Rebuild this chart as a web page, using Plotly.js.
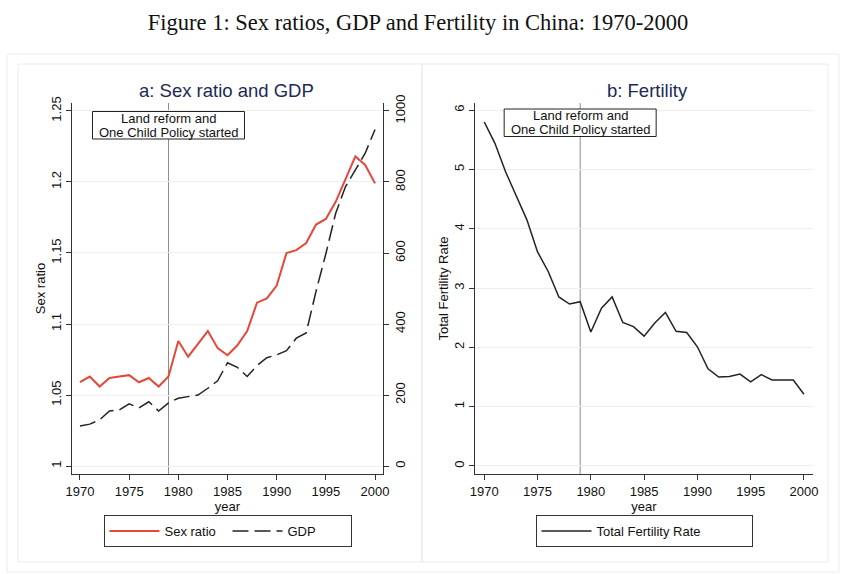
<!DOCTYPE html>
<html>
<head>
<meta charset="utf-8">
<script src="https://cdn.plot.ly/plotly-3.0.1.min.js"></script>
<style>html,body{margin:0;padding:0;background:#fff;}#chart{width:847px;height:574px;}</style>
</head>
<body>
<div id="chart"></div>
<script>
// ---- data ----
const years = [1970,1971,1972,1973,1974,1975,1976,1977,1978,1979,1980,1981,1982,1983,1984,1985,1986,1987,1988,1989,1990,1991,1992,1993,1994,1995,1996,1997,1998,1999,2000];
const sexRatio = [1.059,1.063,1.056,1.062,1.063,1.064,1.059,1.062,1.056,1.063,1.088,1.077,1.086,1.095,1.083,1.078,1.085,1.095,1.115,1.118,1.127,1.150,1.152,1.157,1.170,1.174,1.186,1.202,1.218,1.212,1.199];
const gdp = [113,118,130,155,158,175,164,181,155,178,191,195,200,219,240,291,278,252,283,305,313,325,360,375,492,598,712,787,834,881,948];
const tfr = [5.80,5.44,4.96,4.54,4.15,3.61,3.28,2.85,2.73,2.77,2.26,2.66,2.85,2.42,2.35,2.19,2.41,2.59,2.27,2.25,2.01,1.64,1.50,1.51,1.55,1.42,1.54,1.45,1.45,1.45,1.21];
const policyYear = 1979;
const policyText = ["Land reform and", "One Child Policy started"];
const yearTicks = [1970,1975,1980,1985,1990,1995,2000];
const sexRatioTicks = [1,1.05,1.1,1.15,1.2,1.25];
const sexRatioTickText = ["1","1.05","1.1","1.15","1.2","1.25"];
const gdpTicks = [0,200,400,600,800,1000];
const tfrTicks = [0,1,2,3,4,5,6];

// ---- helpers for pixel -> paper ----
const W = 847, H = 574;
const px = v => v / W;
const py = v => 1 - v / H;

const FONT = "Liberation Sans, Arial, sans-serif";
const AX = "#333333";

const traces = [
  {x: years, y: sexRatio, type: "scatter", mode: "lines", name: "Sex ratio",
   line: {color: "#e5473a", width: 2}, xaxis: "x", yaxis: "y", legend: "legend"},
  {x: years, y: gdp, type: "scatter", mode: "lines", name: "GDP",
   line: {color: "#222222", width: 1.5, dash: "16px,6px"}, xaxis: "x", yaxis: "y2", legend: "legend"},
  {x: years, y: tfr, type: "scatter", mode: "lines", name: "Total Fertility Rate",
   line: {color: "#222222", width: 1.5}, xaxis: "x2", yaxis: "y3", legend: "legend2"}
];

const xCommon = {
  tickvals: yearTicks, ticks: "outside", ticklen: 5, tickcolor: AX, tickwidth: 1,
  showline: true, linecolor: AX, linewidth: 1, showgrid: false, zeroline: false,
  tickfont: {family: FONT, size: 13, color: "#111"},
  title: {text: "year", font: {family: FONT, size: 13, color: "#111"}, standoff: 3}
};
const yCommon = {
  ticks: "outside", ticklen: 5, tickcolor: AX, tickwidth: 1, tickangle: -90,
  showline: true, linecolor: AX, linewidth: 1, zeroline: false,
  tickfont: {family: FONT, size: 13, color: "#111"}
};

const frameLine = {color: "#ebebeb", width: 1};

const layout = {
  width: W, height: H, autosize: false,
  margin: {l: 0, r: 0, t: 0, b: 0},
  paper_bgcolor: "#ffffff", plot_bgcolor: "rgba(0,0,0,0)",
  font: {family: FONT, size: 13, color: "#111"},
  title: {text: "Figure 1: Sex ratios, GDP and Fertility in China: 1970-2000",
          font: {family: "Liberation Serif, Times New Roman, serif", size: 22.5, color: "#111"},
          x: 418 / W, xanchor: "center", y: py(22), yanchor: "middle", xref: "paper", yref: "paper"},
  xaxis: Object.assign({}, xCommon, {domain: [px(72), px(383)], range: [1969.19, 2000.81], anchor: "y"}),
  yaxis: Object.assign({}, yCommon, {domain: [py(474), py(103)], range: [0.9944, 1.2556],
    tickvals: sexRatioTicks, ticktext: sexRatioTickText, showgrid: true, gridcolor: "#eeeeee", anchor: "x",
    title: {text: "Sex ratio", font: {family: FONT, size: 13, color: "#111"}, standoff: 0}}),
  yaxis2: Object.assign({}, yCommon, {range: [-22.5, 1022.5], overlaying: "y", side: "right", anchor: "x",
    tickvals: gdpTicks, showgrid: false}),
  xaxis2: Object.assign({}, xCommon, {domain: [px(475), px(813)], range: [1969.13, 2000.85], anchor: "y3"}),
  yaxis3: Object.assign({}, yCommon, {domain: [py(474), py(103)], range: [-0.135, 6.12], anchor: "x2",
    tickvals: tfrTicks, showgrid: true, gridcolor: "#eeeeee",
    title: {text: "Total Fertility Rate", font: {family: FONT, size: 13, color: "#111"}, standoff: 0}}),
  legend: {x: 227.5 / W, xanchor: "center", y: py(531), yanchor: "middle", orientation: "h",
           bordercolor: AX, borderwidth: 1, bgcolor: "#ffffff", font: {family: FONT, size: 13, color: "#111"},
           entrywidth: 58, itemwidth: 50},
  legend2: {x: 644 / W, xanchor: "center", y: py(531), yanchor: "middle", orientation: "h",
            bordercolor: AX, borderwidth: 1, bgcolor: "#ffffff", font: {family: FONT, size: 13, color: "#111"},
            entrywidth: 150, itemwidth: 50},
  showlegend: true,
  shapes: [
    {type: "rect", xref: "paper", yref: "paper", x0: px(7), x1: px(839), y0: py(572), y1: py(54), line: frameLine, layer: "below"},
    {type: "rect", xref: "paper", yref: "paper", x0: px(18), x1: px(422), y0: py(562), y1: py(64), line: frameLine, layer: "below"},
    {type: "rect", xref: "paper", yref: "paper", x0: px(422), x1: px(828), y0: py(562), y1: py(64), line: frameLine, layer: "below"},
    {type: "line", xref: "x", yref: "y domain", x0: policyYear, x1: policyYear, y0: 0, y1: 1, line: {color: "#8c8c8c", width: 1}, layer: "below"},
    {type: "line", xref: "x2", yref: "y3 domain", x0: policyYear, x1: policyYear, y0: 0, y1: 1, line: {color: "#8c8c8c", width: 1}, layer: "below"},
    {type: "rect", xref: "x", xsizemode: "pixel", xanchor: policyYear, x0: -76, x1: 76, yref: "paper", y0: py(139), y1: py(111.5),
     line: {color: "#222", width: 1}, fillcolor: "#ffffff", layer: "above"},
    {type: "rect", xref: "x2", xsizemode: "pixel", xanchor: policyYear, x0: -76, x1: 76, yref: "paper", y0: py(136.5), y1: py(109),
     line: {color: "#222", width: 1}, fillcolor: "#ffffff", layer: "above"}
  ],
  annotations: [
    {text: "a: Sex ratio and GDP", xref: "paper", yref: "paper", x: 226.5 / W, y: py(90), xanchor: "center", yanchor: "middle",
     showarrow: false, font: {family: FONT, size: 18.5, color: "#1c2a55"}},
    {text: "b: Fertility", xref: "paper", yref: "paper", x: 647 / W, y: py(90), xanchor: "center", yanchor: "middle",
     showarrow: false, font: {family: FONT, size: 18.5, color: "#1c2a55"}},
    {text: policyText[0], xref: "x", yref: "paper", x: policyYear, y: py(118.3), xanchor: "center", yanchor: "middle", showarrow: false,
     borderpad: 0, font: {family: FONT, size: 13, color: "#111"}},
    {text: policyText[1], xref: "x", yref: "paper", x: policyYear, y: py(132.3), xanchor: "center", yanchor: "middle", showarrow: false,
     borderpad: 0, font: {family: FONT, size: 13, color: "#111"}},
    {text: policyText[0], xref: "x2", yref: "paper", x: policyYear, y: py(115.8), xanchor: "center", yanchor: "middle", showarrow: false,
     borderpad: 0, font: {family: FONT, size: 13, color: "#111"}},
    {text: policyText[1], xref: "x2", yref: "paper", x: policyYear, y: py(129.8), xanchor: "center", yanchor: "middle", showarrow: false,
     borderpad: 0, font: {family: FONT, size: 13, color: "#111"}}
  ]
};

Plotly.newPlot("chart", traces, layout, {staticPlot: true, displayModeBar: false});
</script>
</body>
</html>
